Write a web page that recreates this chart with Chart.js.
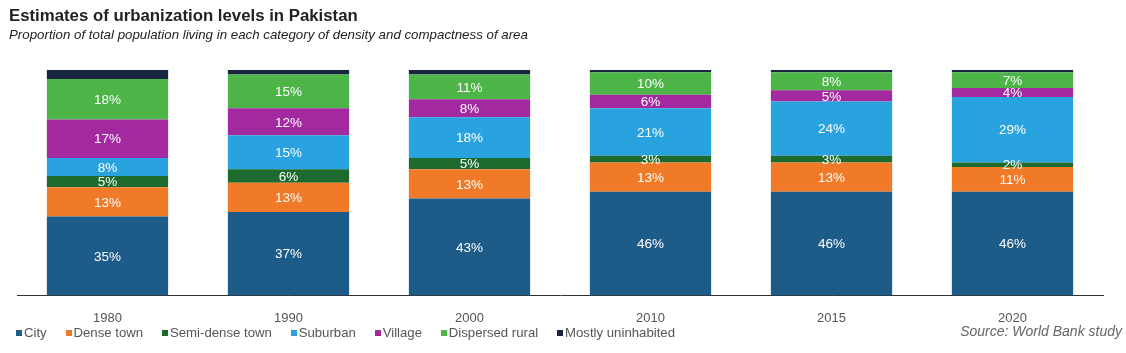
<!DOCTYPE html>
<html>
<head>
<meta charset="utf-8">
<script src="https://cdn.jsdelivr.net/npm/chart.js@4.4.0/dist/chart.umd.min.js"></script>
<style>
  html, body { margin: 0; padding: 0; background: #fff; }
  #wrap { position: relative; width: 1126px; height: 353px; overflow: hidden; }
  #title { position: absolute; left: 9px; top: 6px; font: bold 16.8px "Liberation Sans", Arial, sans-serif; color: #222; }
  #subtitle { position: absolute; left: 9px; top: 27px; font: italic 13.3px "Liberation Sans", Arial, sans-serif; color: #222; }
  #source { position: absolute; right: 4px; top: 323px; font: italic 14px "Liberation Sans", Arial, sans-serif; color: #666; }
  #legend { position: absolute; left: 16px; top: 325px; display: flex; font: 13.2px "Liberation Sans", Arial, sans-serif; color: #555; }
  #legend span.item { display: flex; align-items: center; margin-right: 18.8px; }
  #legend span.box { width: 6px; height: 6px; margin-right: 2px; display: inline-block; }
  canvas { position: absolute; left: 0; top: 0; }
</style>
</head>
<body>
<div id="wrap">
  <canvas id="urbChart" width="1126" height="353"></canvas>
  <div id="title">Estimates of urbanization levels in Pakistan</div>
  <div id="subtitle">Proportion of total population living in each category of density and compactness of area</div>
  <div id="legend"></div>
  <div id="source">Source: World Bank study</div>
</div>
<script>
const years = ['1980', '1990', '2000', '2010', '2015', '2020'];
const city = [35, 37, 43, 46, 46, 46];
const denseTown = [13, 13, 13, 13, 13, 11];
const semiDense = [5, 6, 5, 3, 3, 2];
const suburban = [8, 15, 18, 21, 24, 29];
const village = [17, 12, 8, 6, 5, 4];
const dispersed = [18, 15, 11, 10, 8, 7];
const uninhabited = [4, 2, 2, 1, 1, 1];

// draws the % labels inside each segment
const segLabels = {
  id: 'segLabels',
  afterDatasetsDraw(chart) {
    const c = chart.ctx;
    c.save();
    c.font = '13.5px "Liberation Sans", Arial, sans-serif';
    c.fillStyle = '#ffffff';
    c.textAlign = 'center';
    c.textBaseline = 'middle';
    chart.data.datasets.forEach((ds, i) => {
      if (ds.label === 'Mostly uninhabited') return;
      chart.getDatasetMeta(i).data.forEach((bar, j) => {
        c.fillText(ds.data[j] + '%', bar.x, (bar.y + bar.base) / 2 + 1);
      });
    });
    c.restore();
  }
};

const ctx = document.getElementById('urbChart');
const urbChart = new Chart(ctx, {
  type: 'bar',
  data: {
    labels: years,
    datasets: [
      { label: 'City', data: city, backgroundColor: '#1d5b88' },
      { label: 'Dense town', data: denseTown, backgroundColor: '#f07a27' },
      { label: 'Semi-dense town', data: semiDense, backgroundColor: '#1c6a2e' },
      { label: 'Suburban', data: suburban, backgroundColor: '#29a3df' },
      { label: 'Village', data: village, backgroundColor: '#a2299f' },
      { label: 'Dispersed rural', data: dispersed, backgroundColor: '#4db548' },
      { label: 'Mostly uninhabited', data: uninhabited, backgroundColor: '#17253f' }
    ]
  },
  options: {
    responsive: false,
    animation: false,
    categoryPercentage: 1,
    barPercentage: 0.67,
    layout: { padding: { top: 70, left: 17, right: 23, bottom: 20 } },
    scales: {
      x: {
        stacked: true,
        grid: { display: false },
        border: { color: '#333', width: 1 },
        ticks: { color: '#555', font: { family: '"Liberation Sans", Arial', size: 13 }, padding: 7 }
      },
      y: {
        stacked: true,
        display: false,
        min: 0,
        max: 100
      }
    },
    plugins: {
      tooltip: { enabled: false },
      legend: { display: false }
    }
  },
  plugins: [segLabels]
});

// legend built from the chart's datasets
const legendEl = document.getElementById('legend');
urbChart.data.datasets.forEach(ds => {
  const item = document.createElement('span');
  item.className = 'item';
  const box = document.createElement('span');
  box.className = 'box';
  box.style.background = ds.backgroundColor;
  item.appendChild(box);
  item.appendChild(document.createTextNode(ds.label));
  legendEl.appendChild(item);
});
</script>
</body>
</html>
